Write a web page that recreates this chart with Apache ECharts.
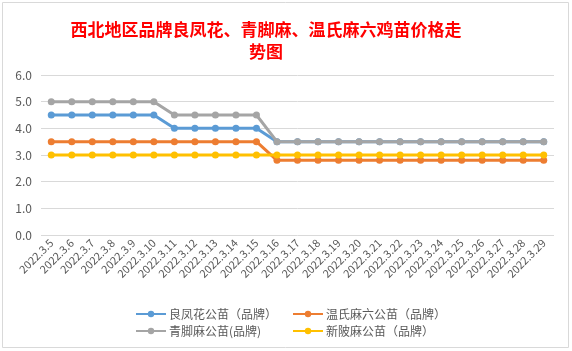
<!DOCTYPE html>
<html>
<head>
<meta charset="utf-8">
<script src="https://cdn.jsdelivr.net/npm/echarts@6/dist/echarts.min.js"></script>
<style>
  html, body { margin: 0; padding: 0; background: #fff; }
  #chart { width: 572px; height: 351px; }
</style>
</head>
<body>
<div id="chart"></div>
<script>
// dates 2022.3.5 .. 2022.3.29
const categories = [
  '2022.3.5', '2022.3.6', '2022.3.7', '2022.3.8', '2022.3.9', '2022.3.10',
  '2022.3.11', '2022.3.12', '2022.3.13', '2022.3.14', '2022.3.15', '2022.3.16',
  '2022.3.17', '2022.3.18', '2022.3.19', '2022.3.20', '2022.3.21', '2022.3.22',
  '2022.3.23', '2022.3.24', '2022.3.25', '2022.3.26', '2022.3.27', '2022.3.28',
  '2022.3.29'
];

const liangfenghua = [4.5, 4.5, 4.5, 4.5, 4.5, 4.5, 4.0, 4.0, 4.0, 4.0, 4.0, 3.5, 3.5, 3.5, 3.5, 3.5, 3.5, 3.5, 3.5, 3.5, 3.5, 3.5, 3.5, 3.5, 3.5];
const wenshimaliu = [3.5, 3.5, 3.5, 3.5, 3.5, 3.5, 3.5, 3.5, 3.5, 3.5, 3.5, 2.8, 2.8, 2.8, 2.8, 2.8, 2.8, 2.8, 2.8, 2.8, 2.8, 2.8, 2.8, 2.8, 2.8];
const qingjiaoma = [5.0, 5.0, 5.0, 5.0, 5.0, 5.0, 4.5, 4.5, 4.5, 4.5, 4.5, 3.5, 3.5, 3.5, 3.5, 3.5, 3.5, 3.5, 3.5, 3.5, 3.5, 3.5, 3.5, 3.5, 3.5];
const xinbeima = [3.0, 3.0, 3.0, 3.0, 3.0, 3.0, 3.0, 3.0, 3.0, 3.0, 3.0, 3.0, 3.0, 3.0, 3.0, 3.0, 3.0, 3.0, 3.0, 3.0, 3.0, 3.0, 3.0, 3.0, 3.0];

const seriesNames = ['良凤花公苗（品牌）', '温氏麻六公苗（品牌）', '青脚麻公苗(品牌)', '新陂麻公苗（品牌）'];
const seriesData = [liangfenghua, wenshimaliu, qingjiaoma, xinbeima];
const colors = ['#5B9BD5', '#ED7D31', '#A5A5A5', '#FFC000'];

const chart = echarts.init(document.getElementById('chart'));

const font = '"Noto Sans CJK SC", "Noto Sans", sans-serif';
const labelColor = '#595959';

// one legend per item so the two columns line up like the original
const legendPos = [
  { left: 130, top: 303 },
  { left: 287, top: 303 },
  { left: 130, top: 320 },
  { left: 287, top: 320 }
];
const legends = seriesNames.map((name, i) => ({
  data: [name],
  left: legendPos[i].left,
  top: legendPos[i].top,
  itemWidth: 30,
  itemHeight: 8,
  itemGap: 0,
  textStyle: { color: labelColor, fontSize: 12, fontFamily: font, padding: [0, 0, 0, -2] }
}));

chart.setOption({
  animation: false,
  color: colors,
  title: {
    text: '西北地区品牌良凤花、青脚麻、温氏麻六鸡苗价格走\n势图',
    left: 261,
    textAlign: 'center',
    top: 14,
    textStyle: {
      color: '#FF0000',
      fontSize: 17,
      fontWeight: 'bold',
      fontFamily: font,
      lineHeight: 22
    }
  },
  legend: legends,
  grid: {
    left: 41,
    right: 18,
    top: 75,
    bottom: 116,
    containLabel: false
  },
  xAxis: {
    type: 'category',
    data: categories,
    boundaryGap: true,
    axisLine: { show: false },
    axisTick: { show: false },
    axisLabel: {
      rotate: 45,
      interval: 0,
      color: labelColor,
      fontSize: 11,
      fontFamily: font,
      margin: 6
    }
  },
  yAxis: {
    type: 'value',
    min: 0,
    max: 6,
    interval: 1,
    axisLine: { show: false },
    axisTick: { show: false },
    axisLabel: {
      color: labelColor,
      fontSize: 12,
      fontFamily: font,
      margin: 9,
      formatter: v => v.toFixed(1)
    },
    splitLine: { lineStyle: { color: '#D9D9D9', width: 1 } }
  },
  graphic: [{
    type: 'rect',
    shape: { x: 2.5, y: 2.5, width: 566, height: 345 },
    style: { fill: 'none', stroke: '#D9D9D9', lineWidth: 1 },
    silent: true
  }],
  series: seriesNames.map((name, i) => ({
    name,
    type: 'line',
    data: seriesData[i],
    symbol: 'circle',
    symbolSize: 7,
    lineStyle: { width: 3, color: colors[i] },
    itemStyle: { color: colors[i] },
    z: i === 2 ? 3 : 2
  }))
});
</script>
</body>
</html>
